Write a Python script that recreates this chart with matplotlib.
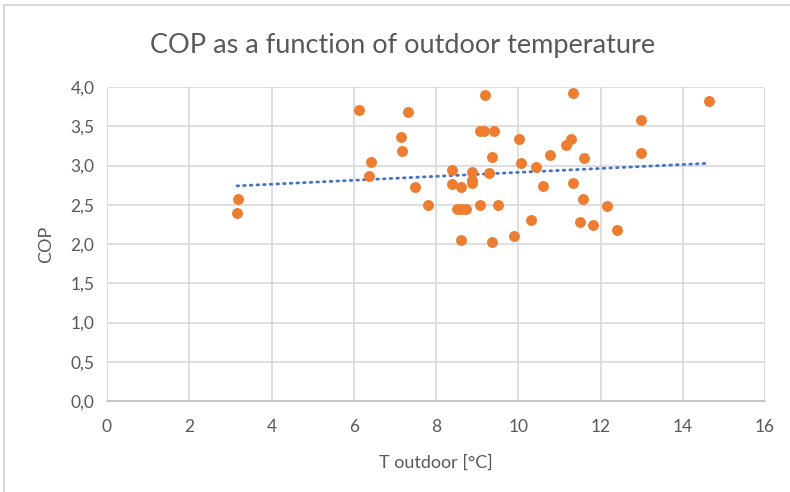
import matplotlib
matplotlib.use("Agg")
import matplotlib.pyplot as plt
import numpy as np
from matplotlib.lines import Line2D
from matplotlib.ticker import FuncFormatter

t_outdoor = [3.18, 3.16, 6.13, 7.33, 9.20, 9.06, 9.17, 9.42, 7.14, 10.03, 7.18, 9.35,
             10.76, 6.41, 10.06, 10.43, 8.39, 6.36, 8.87, 9.28, 8.87, 8.87, 8.39, 8.60,
             7.49, 10.60, 7.81, 9.08, 9.51, 8.51, 8.61, 8.72, 10.32, 8.62, 9.35, 9.90,
             11.34, 14.65, 12.98, 11.29, 11.17, 12.98, 11.61, 11.34, 11.57, 12.15,
             11.49, 11.82, 12.40]
cop = [2.57, 2.40, 3.71, 3.68, 3.90, 3.44, 3.44, 3.44, 3.36, 3.34, 3.19, 3.11,
       3.13, 3.04, 3.03, 2.98, 2.94, 2.86, 2.92, 2.90, 2.82, 2.78, 2.76, 2.73,
       2.73, 2.74, 2.50, 2.50, 2.50, 2.45, 2.45, 2.45, 2.30, 2.05, 2.02, 2.10,
       3.92, 3.82, 3.58, 3.34, 3.26, 3.16, 3.10, 2.78, 2.57, 2.48,
       2.28, 2.24, 2.18]
x_ticks = [0, 2, 4, 6, 8, 10, 12, 14, 16]
y_ticks = [0.0, 0.5, 1.0, 1.5, 2.0, 2.5, 3.0, 3.5, 4.0]

plt.rcParams['font.family'] = ['Lato', 'DejaVu Sans']
txt = '#595959'
grid = '#d9d9d9'

fig = plt.figure(figsize=(7.9, 4.92), dpi=100)
ax = fig.add_axes([107/790, 1-401/492, (765-107)/790, (401-87)/492])

ax.scatter(t_outdoor, cop, s=62, color='#ED7D31', zorder=3, linewidths=0)

slope, inter = np.polyfit(t_outdoor, cop, 1)
xs = np.array([min(t_outdoor), max(t_outdoor)])
ax.plot(xs, slope*xs + inter, color='#4472C4', lw=2, linestyle=(0, (0.6, 1.8)),
        dash_capstyle='round', zorder=2)

ax.set_xlim(0, 16)
ax.set_ylim(0, 4)
ax.set_xticks(x_ticks)
ax.set_yticks(y_ticks)
ax.yaxis.set_major_formatter(FuncFormatter(lambda v, p: f"{v:.1f}".replace('.', ',')))
ax.grid(True, color=grid, lw=1.2)
ax.set_axisbelow(True)
for s in ['top', 'right', 'left']:
    ax.spines[s].set_visible(False)
ax.spines['bottom'].set_color('#bfbfbf')
ax.spines['bottom'].set_linewidth(1.2)
ax.tick_params(length=0, colors=txt, labelsize=12.5)
ax.tick_params(axis='x', pad=13)
ax.tick_params(axis='y', pad=9)
for lab in ax.get_xticklabels() + ax.get_yticklabels():
    lab.set_color(txt)

ax.set_xlabel('T outdoor [°C]', fontsize=13, color=txt, labelpad=14)
ax.set_ylabel('COP', fontsize=13, color=txt, labelpad=12)
fig.text(403/790, 1-45/492, 'COP as a function of outdoor temperature',
         ha='center', va='center', fontsize=19.5, color=txt)

# chart border (top and left)
fig.add_artist(Line2D([4/790, 1], [1-5/492, 1-5/492], color=grid, lw=1.5))
fig.add_artist(Line2D([4/790, 4/790], [0, 1-5/492], color=grid, lw=1.5))

fig.savefig('out.png', dpi=100)
